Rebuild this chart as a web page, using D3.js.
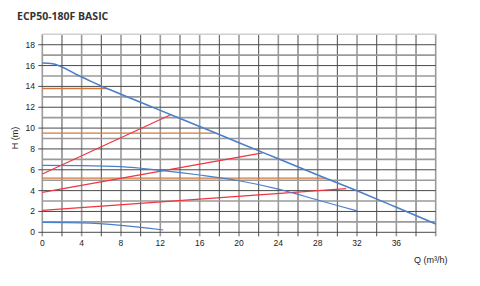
<!DOCTYPE html>
<html>
<head>
<meta charset="utf-8">
<script src="https://cdn.jsdelivr.net/npm/d3@7"></script>
<style>
    body { margin: 0; background: #fff; }
    text { font-family: "Liberation Sans", Arial, sans-serif; fill: #222; }
</style>
</head>
<body>
<div id="chart-area"></div>
<script>
// pump curves (blue)
var maxQ = [0, 0.9, 4, 6.5, 8, 12, 16, 20, 24, 28, 32, 36, 40];
var maxH = [16.25, 16.2, 14.9, 13.82, 13.25, 11.7, 10.15, 8.6, 7.05, 5.5, 3.98, 2.4, 0.8];

var midQ = [0, 4, 8, 12, 16, 20, 24, 28, 32];
var midH = [6.42, 6.4, 6.3, 5.95, 5.5, 4.95, 4.15, 3.1, 2.05];

var lowQ = [0, 4, 8, 12.3];
var lowH = [0.95, 0.9, 0.67, 0.22];

// system curves (red): start head, end flow, end head
var sysStartH = [5.6, 3.83, 2.1];
var sysEndQ = [13.1, 22.4, 30.9];
var sysEndH = [11.3, 7.62, 4.2];

// constant head lines (orange)
var constH = [13.8, 9.52, 5.2];
var constEndQ = [6.5, 17.6, 28.8];

var xTicks = [0, 4, 8, 12, 16, 20, 24, 28, 32, 36];
var yTicks = [0, 2, 4, 6, 8, 10, 12, 14, 16, 18];

var svg = d3.select("#chart-area").append("svg")
    .attr("width", 480)
    .attr("height", 286);

var plotLeft = 42.3, plotRight = 435.7, plotTop = 34.3, plotBottom = 232.3;

var x = d3.scaleLinear()
    .domain([0, 40])
    .range([plotLeft, plotRight]);

var y = d3.scaleLinear()
    .domain([0, 19])
    .range([plotBottom, plotTop]);

// title
svg.append("text")
    .attr("x", 17)
    .attr("y", 20)
    .style("font-family", "'Open Sans', sans-serif")
    .style("font-weight", "bold")
    .style("font-size", "10.5px")
    .style("fill", "#333")
    .text("ECP50-180F BASIC");

// grid
var grid = svg.append("g");
grid.selectAll(".vline")
    .data(d3.range(0, 41, 2))
    .enter()
    .append("line")
    .attr("x1", function(d){ return x(d); })
    .attr("x2", function(d){ return x(d); })
    .attr("y1", y(19))
    .attr("y2", plotBottom + 4)
    .attr("stroke", function(d, i){ return i % 2 === 0 ? "#9a9a9a" : "#4a4a4a"; })
    .attr("stroke-width", function(d, i){ return i % 2 === 0 ? 1.6 : 1; });

grid.selectAll(".hline")
    .data(d3.range(0, 20, 1))
    .enter()
    .append("line")
    .attr("x1", function(d){ return d % 2 === 0 ? plotLeft - 4 : plotLeft; })
    .attr("x2", plotRight)
    .attr("y1", function(d){ return y(d); })
    .attr("y2", function(d){ return y(d); })
    .attr("stroke", function(d){ return d === 19 ? "#cfcfcf" : (d % 2 === 0 ? "#4a4a4a" : "#9a9a9a"); })
    .attr("stroke-width", function(d){ return d % 2 === 0 ? 1 : 1.6; });

// tick labels
svg.selectAll(".ylab")
    .data(yTicks)
    .enter()
    .append("text")
    .attr("x", 35)
    .attr("y", function(d){ return y(d) + 3; })
    .attr("text-anchor", "end")
    .style("font-size", "8.5px")
    .text(function(d){ return d; });

svg.selectAll(".xlab")
    .data(xTicks)
    .enter()
    .append("text")
    .attr("x", function(d){ return x(d); })
    .attr("y", 246)
    .attr("text-anchor", "middle")
    .style("font-size", "8.5px")
    .text(function(d){ return d; });

// axis titles
svg.append("text")
    .attr("transform", "translate(18,138) rotate(-90)")
    .attr("text-anchor", "middle")
    .style("font-size", "9px")
    .text("H (m)");

svg.append("text")
    .attr("x", 414)
    .attr("y", 263)
    .style("font-size", "9px")
    .text("Q (m³/h)");

var line = d3.line()
    .x(function(d){ return x(d[0]); })
    .y(function(d){ return y(d[1]); })
    .curve(d3.curveMonotoneX);

// orange constant head lines
svg.selectAll(".const")
    .data(constH)
    .enter()
    .append("line")
    .attr("x1", x(0))
    .attr("x2", function(d, i){ return x(constEndQ[i]); })
    .attr("y1", function(d){ return y(d); })
    .attr("y2", function(d){ return y(d); })
    .attr("stroke", "#d2783c")
    .attr("stroke-width", 1.3);

// red system lines
svg.selectAll(".sys")
    .data(sysStartH)
    .enter()
    .append("line")
    .attr("x1", x(0))
    .attr("y1", function(d){ return y(d); })
    .attr("x2", function(d, i){ return x(sysEndQ[i]); })
    .attr("y2", function(d, i){ return y(sysEndH[i]); })
    .attr("stroke", "#ee3540")
    .attr("stroke-width", 1.2);

// blue pump curves
var curves = [
    d3.zip(maxQ, maxH),
    d3.zip(midQ, midH),
    d3.zip(lowQ, lowH)
];
svg.selectAll(".pump")
    .data(curves)
    .enter()
    .append("path")
    .attr("d", line)
    .attr("fill", "none")
    .attr("stroke", "#4a7fc8")
    .attr("stroke-width", function(d, i){ return i === 0 ? 1.6 : 1.2; });
</script>
</body>
</html>
